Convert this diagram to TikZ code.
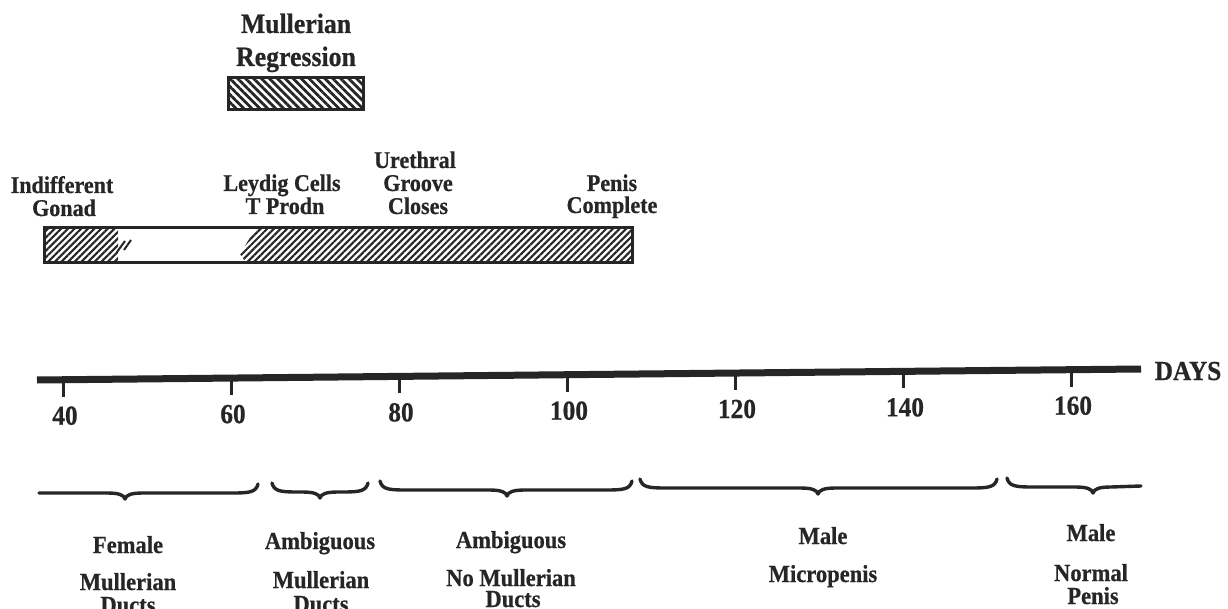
\documentclass[tikz,border=0pt]{standalone}
\usepackage{fontspec}
\setmainfont[FakeStretch=0.92, BoldFeatures={FakeBold=0.6}]{Liberation Serif}
\usetikzlibrary{patterns.meta}
\definecolor{ink}{HTML}{262626}
\tikzset{
  txt/.style={inner sep=0pt, anchor=base, text=ink, font=\fontsize{#1}{#1}\selectfont\bfseries},
  toplab/.style={txt=24},
  title/.style={txt=28},
  ticklab/.style={txt=27.5},
  botlab/.style={txt=24.5},
  frame/.style={draw=ink, line width=3pt},
  brc/.style={draw=ink, line width=3.4pt, line cap=round, line join=round},
  tickline/.style={draw=ink, line width=3pt},
  hatchA/.style={pattern={Lines[angle=45,distance=4.7pt,line width=2.1pt]}, pattern color=ink},
  hatchB/.style={pattern={Lines[angle=-45,distance=5.6pt,line width=2.8pt]}, pattern color=ink},
}
\newcommand{\mybrace}[4]{%
  \draw[brc] ({#1},{#4-9}) .. controls ({#1+2},{#4-1}) and ({#1+8},{#4}) .. ({#1+25},{#4})
    -- ({#2-18},{#4}) .. controls ({#2-6},{#4}) and ({#2-1},{#4+2}) .. ({#2},{#4+6})
    .. controls ({#2+1},{#4+2}) and ({#2+6},{#4}) .. ({#2+18},{#4})
    -- ({#3-25},{#4}) .. controls ({#3-8},{#4}) and ({#3-2},{#4-1}) .. ({#3},{#4-9});
}
\begin{document}
\begin{tikzpicture}[x=1pt, y=-1pt]
\useasboundingbox[fill=white] (0,0) rectangle (1228,609);

% title and Mullerian regression box
\node[title] (t1) at (296,33) {Mullerian};
\node[title] (t2) at (296,66) {Regression};
\fill[hatchB] (228,78) rectangle (363,110);
\draw[frame] (228,78) rectangle (363,110);

% top labels
\node[toplab] (ig1) at (62,193) {Indifferent};
\node[toplab] (ig2) at (64,216) {Gonad};
\node[toplab] (ly1) at (282,191) {Leydig Cells};
\node[toplab] (ly2) at (285,214) {T Prodn};
\node[toplab] (ur1) at (415,168) {Urethral};
\node[toplab] (ur2) at (418,191) {Groove};
\node[toplab] (ur3) at (418,214) {Closes};
\node[toplab] (pc1) at (612,191) {Penis};
\node[toplab] (pc2) at (612,213) {Complete};

% development bar
\fill[hatchA] (44,228) rectangle (118,263);
\draw[ink, line width=2pt] (117,252) -- (125,241);
\draw[ink, line width=2pt] (124,250) -- (131,240);
\fill[hatchA] (256,228) -- (632,228) -- (632,263) -- (246,263) -- (240,254) -- cycle;
\draw[frame] (44,228) rectangle (632,263);

% axis
\draw[ink, line width=7pt] (37,380) -- (1141,369);
\foreach \xx/\yy/\lab in {63/379.7/40, 231/378.1/60, 399/376.4/80, 567/374.7/100, 735/373.0/120, 903/371.4/140, 1071/369.7/160}{
  \draw[tickline] (\xx,\yy) -- (\xx,\yy+17);
  \node[ticklab] (n\lab) at (\xx+2,\yy+45) {\lab};
}
\node[txt=27.5] (days) at (1188,380) {DAYS};

% braces
\draw[brc] (39,493) -- ({125-18},493) .. controls ({125-6},493) and ({125-1},495) .. (125,499)
  .. controls ({125+1},495) and ({125+6},493) .. ({125+18},493)
  -- ({258-25},493) .. controls ({258-8},493) and ({258-2},492) .. (258,484);
\mybrace{272}{320}{368}{492}
\mybrace{380}{507}{632}{490}
\mybrace{640}{818}{997}{488}
\draw[brc] (1007,478) .. controls (1009,486) and (1015,487) .. (1032,487)
  -- ({1093-18},487) .. controls ({1093-6},487) and ({1093-1},489) .. (1093,493)
  .. controls ({1093+1},489) and ({1093+6},487) .. ({1093+18},487) -- (1141,486);

% bottom labels
\node[botlab] (f1) at (128,553) {Female};
\node[botlab] (f2) at (128,590) {Mullerian};
\node[botlab] (f3) at (128,613) {Ducts};
\node[botlab] (a1) at (320,549) {Ambiguous};
\node[botlab] (a2) at (321,588) {Mullerian};
\node[botlab] (a3) at (321,612) {Ducts};
\node[botlab] (b1) at (511,548) {Ambiguous};
\node[botlab] (b2) at (511,586) {No Mullerian};
\node[botlab] (b3) at (513,607) {Ducts};
\node[botlab] (m1) at (823,544) {Male};
\node[botlab] (m2) at (823,582) {Micropenis};
\node[botlab] (p1) at (1091,541) {Male};
\node[botlab] (p2) at (1091,581) {Normal};
\node[botlab] (p3) at (1093,604) {Penis};
\end{tikzpicture}
\end{document}
